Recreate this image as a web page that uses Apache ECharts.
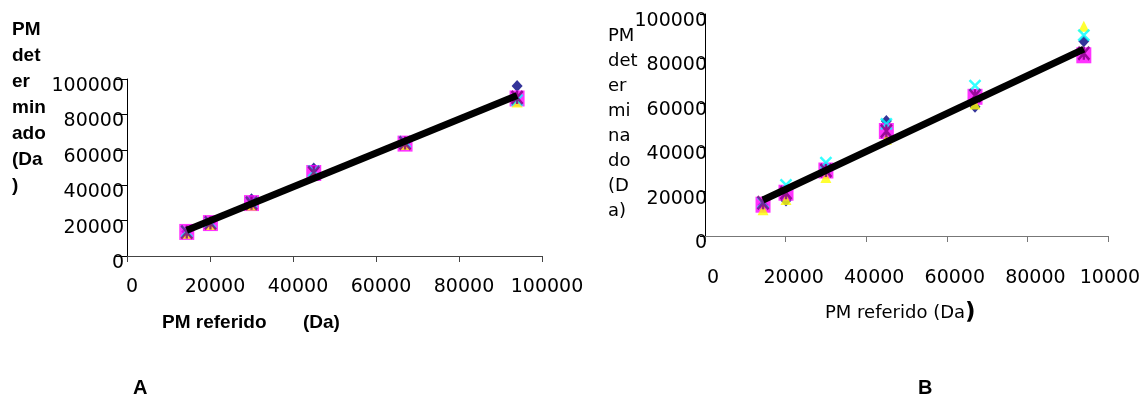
<!DOCTYPE html>
<html>
<head>
<meta charset="utf-8">
<script src="https://cdn.jsdelivr.net/npm/echarts@6/dist/echarts.min.js"></script>
<style>
html,body{margin:0;padding:0;background:#fff;}
#chart{width:1139px;height:407px;}
</style>
</head>
<body>
<div id="chart"></div>
<script>
// Reference molecular weights (Da)
const pmReferido = [14400, 20100, 30000, 45000, 67000, 94000];
const axisTicks = [0, 20000, 40000, 60000, 80000, 100000];

// Chart A - determined MW per series
const aSerie1 = [13800, 19000, 32000, 49500, 64000, 96000];
const aSerie2 = [13600, 18600, 29900, 46900, 63500, 89000];
const aSerie3 = [12800, 17800, 28800, 46000, 63000, 87000];
const aSerie4 = [13900, 19000, 30300, 48000, 64500, 88000];
const aSerie5 = [13500, 18700, 29800, 47000, 63800, 89500];

// Chart B - determined MW per series
const bSerie1 = [14000, 16000, 30500, 51800, 58200, 87700];
const bSerie2 = [14100, 19500, 29500, 47300, 62700, 81400];
const bSerie3 = [11800, 16400, 26400, 43600, 59500, 94500];
const bSerie4 = [15000, 23000, 33000, 50500, 67700, 90500];
const bSerie5 = [15000, 19500, 29500, 47300, 63200, 82300];

const aTitleY = 'PM\ndet\ner\nmin\nado\n(Da\n)';
const bTitleY = 'PM\ndet\ner\nmi\nna\ndo\n(D\na)';

function pairs(xs, ys){ return xs.map((x,i)=>[x, ys[i]]); }
function trend(xs, list){
  const pts = [];
  list.forEach(ys => ys.forEach((y,i)=>pts.push([xs[i], y])));
  const n = pts.length;
  let sx=0, sy=0, sxx=0, sxy=0;
  pts.forEach(([x,y])=>{sx+=x; sy+=y; sxx+=x*x; sxy+=x*y;});
  const b = (n*sxy - sx*sy)/(n*sxx - sx*sx);
  const a = (sy - b*sx)/n;
  const x0 = Math.min(...xs), x1 = Math.max(...xs);
  return [[x0, a+b*x0],[x1, a+b*x1]];
}

const X_PATH = 'path://M0,0L10,10M10,0L0,10';
const STAR_PATH = 'path://M0,0L10,10M10,0L0,10M5,0L5,10';

function markerSeries(idx, s1, s2, s3, s4, s5){
  const base = {type:'scatter', xAxisIndex: idx, yAxisIndex: idx, animation:false};
  return [
    Object.assign({}, base, {name:'Serie1', data: pairs(pmReferido, s1), symbol:'diamond', symbolSize:[11,12], itemStyle:{color:'#000080'}, z:2}),
    Object.assign({}, base, {name:'Serie2', data: pairs(pmReferido, s2), symbol:'rect', symbolSize:[15,16], itemStyle:{color:'#FF00FF'}, z:3}),
    Object.assign({}, base, {name:'Serie3', data: pairs(pmReferido, s3), symbol:'triangle', symbolSize:[11,11], itemStyle:{color:'#FFFF00'}, z:4}),
    Object.assign({}, base, {name:'Serie4', data: pairs(pmReferido, s4), symbol:X_PATH, symbolSize:[11,11], itemStyle:{color:'rgba(0,0,0,0)', borderColor:'#00FFFF', borderWidth:2.5}, z:5}),
    Object.assign({}, base, {name:'Serie5', data: pairs(pmReferido, s5), symbol:STAR_PATH, symbolSize:[11,13], itemStyle:{color:'rgba(0,0,0,0)', borderColor:'#800080', borderWidth:2.5}, z:6})
  ];
}

const tickFont = {fontFamily:'DejaVu Sans', fontSize:19, color:'#000'};

function xAxisCfg(idx, margin, padLeft, lineColor){
  return {
    gridIndex: idx, type:'value', min:0, max:100000, interval:20000,
    splitLine:{show:false},
    axisLine:{show:true, onZero:true, lineStyle:{color:lineColor, width:1}},
    axisTick:{show:true, inside:false, length:6, lineStyle:{color:lineColor}},
    axisLabel:Object.assign({show:true, margin:margin, padding:[0,0,0,padLeft], hideOverlap:false, formatter:(v)=>String(v)}, tickFont)
  };
}
function yAxisCfg(idx, margin, tickLen){
  return {
    gridIndex: idx, type:'value', min:0, max:100000, interval:20000,
    splitLine:{show:false},
    axisLine:{show:true, lineStyle:{color:'#000', width:1}},
    axisTick:{show:true, inside:false, length:tickLen, lineStyle:{color:'#000'}},
    axisLabel:Object.assign({show:true, margin:margin, verticalAlign:'top', lineHeight:14, hideOverlap:false, formatter:(v)=>String(v)}, tickFont)
  };
}

const chart = echarts.init(document.getElementById('chart'), null, {renderer:'canvas'});
const option = {
  backgroundColor:'#fff',
  animation:false,
  grid:[
    {left:127, top:79, width:415, height:177, containLabel:false, outerBoundsMode:'none'},
    {left:705, top:14, width:403, height:222, containLabel:false, outerBoundsMode:'none'}
  ],
  xAxis:[xAxisCfg(0, 22, 10, '#444'), xAxisCfg(1, 33, 16, '#777')],
  yAxis:[yAxisCfg(0, 3, 12), yAxisCfg(1, -2, 5)],
  series:[
    ...markerSeries(0, aSerie1, aSerie2, aSerie3, aSerie4, aSerie5),
    {type:'line', xAxisIndex:0, yAxisIndex:0, data: trend(pmReferido, [aSerie1,aSerie2,aSerie3,aSerie4,aSerie5]), symbol:'none', lineStyle:{color:'#000', width:7}, z:10, animation:false},
    ...markerSeries(1, bSerie1, bSerie2, bSerie3, bSerie4, bSerie5),
    {type:'line', xAxisIndex:1, yAxisIndex:1, data: trend(pmReferido, [bSerie2]), symbol:'none', lineStyle:{color:'#000', width:7}, z:10, animation:false}
  ],
  graphic:[
    {type:'text', left:12, top:17, style:{text:aTitleY, fontFamily:'Liberation Sans', fontWeight:'bold', fontSize:19, lineHeight:26, fill:'#000'}},
    {type:'text', left:162, top:313, style:{text:'PM referido', fontFamily:'Liberation Sans', fontWeight:'bold', fontSize:19, fill:'#000'}},
    {type:'text', left:303, top:313, style:{text:'(Da)', fontFamily:'Liberation Sans', fontWeight:'bold', fontSize:19, fill:'#000'}},
    {type:'text', left:608, top:24, style:{text:bTitleY, fontFamily:'DejaVu Sans', fontSize:18, lineHeight:25, fill:'#000'}},
    {type:'text', left:825, top:302, style:{text:'{n|PM referido (Da}{p|)}', rich:{n:{fontFamily:'DejaVu Sans', fontSize:18, fill:'#000'}, p:{fontFamily:'DejaVu Sans', fontWeight:'bold', fontSize:23, fill:'#000'}}}},
    {type:'text', left:133, top:378, style:{text:'A', fontFamily:'Liberation Sans', fontWeight:'bold', fontSize:20, fill:'#000'}},
    {type:'text', left:918, top:378, style:{text:'B', fontFamily:'Liberation Sans', fontWeight:'bold', fontSize:20, fill:'#000'}}
  ]
};
chart.setOption(option);
</script>
</body>
</html>
